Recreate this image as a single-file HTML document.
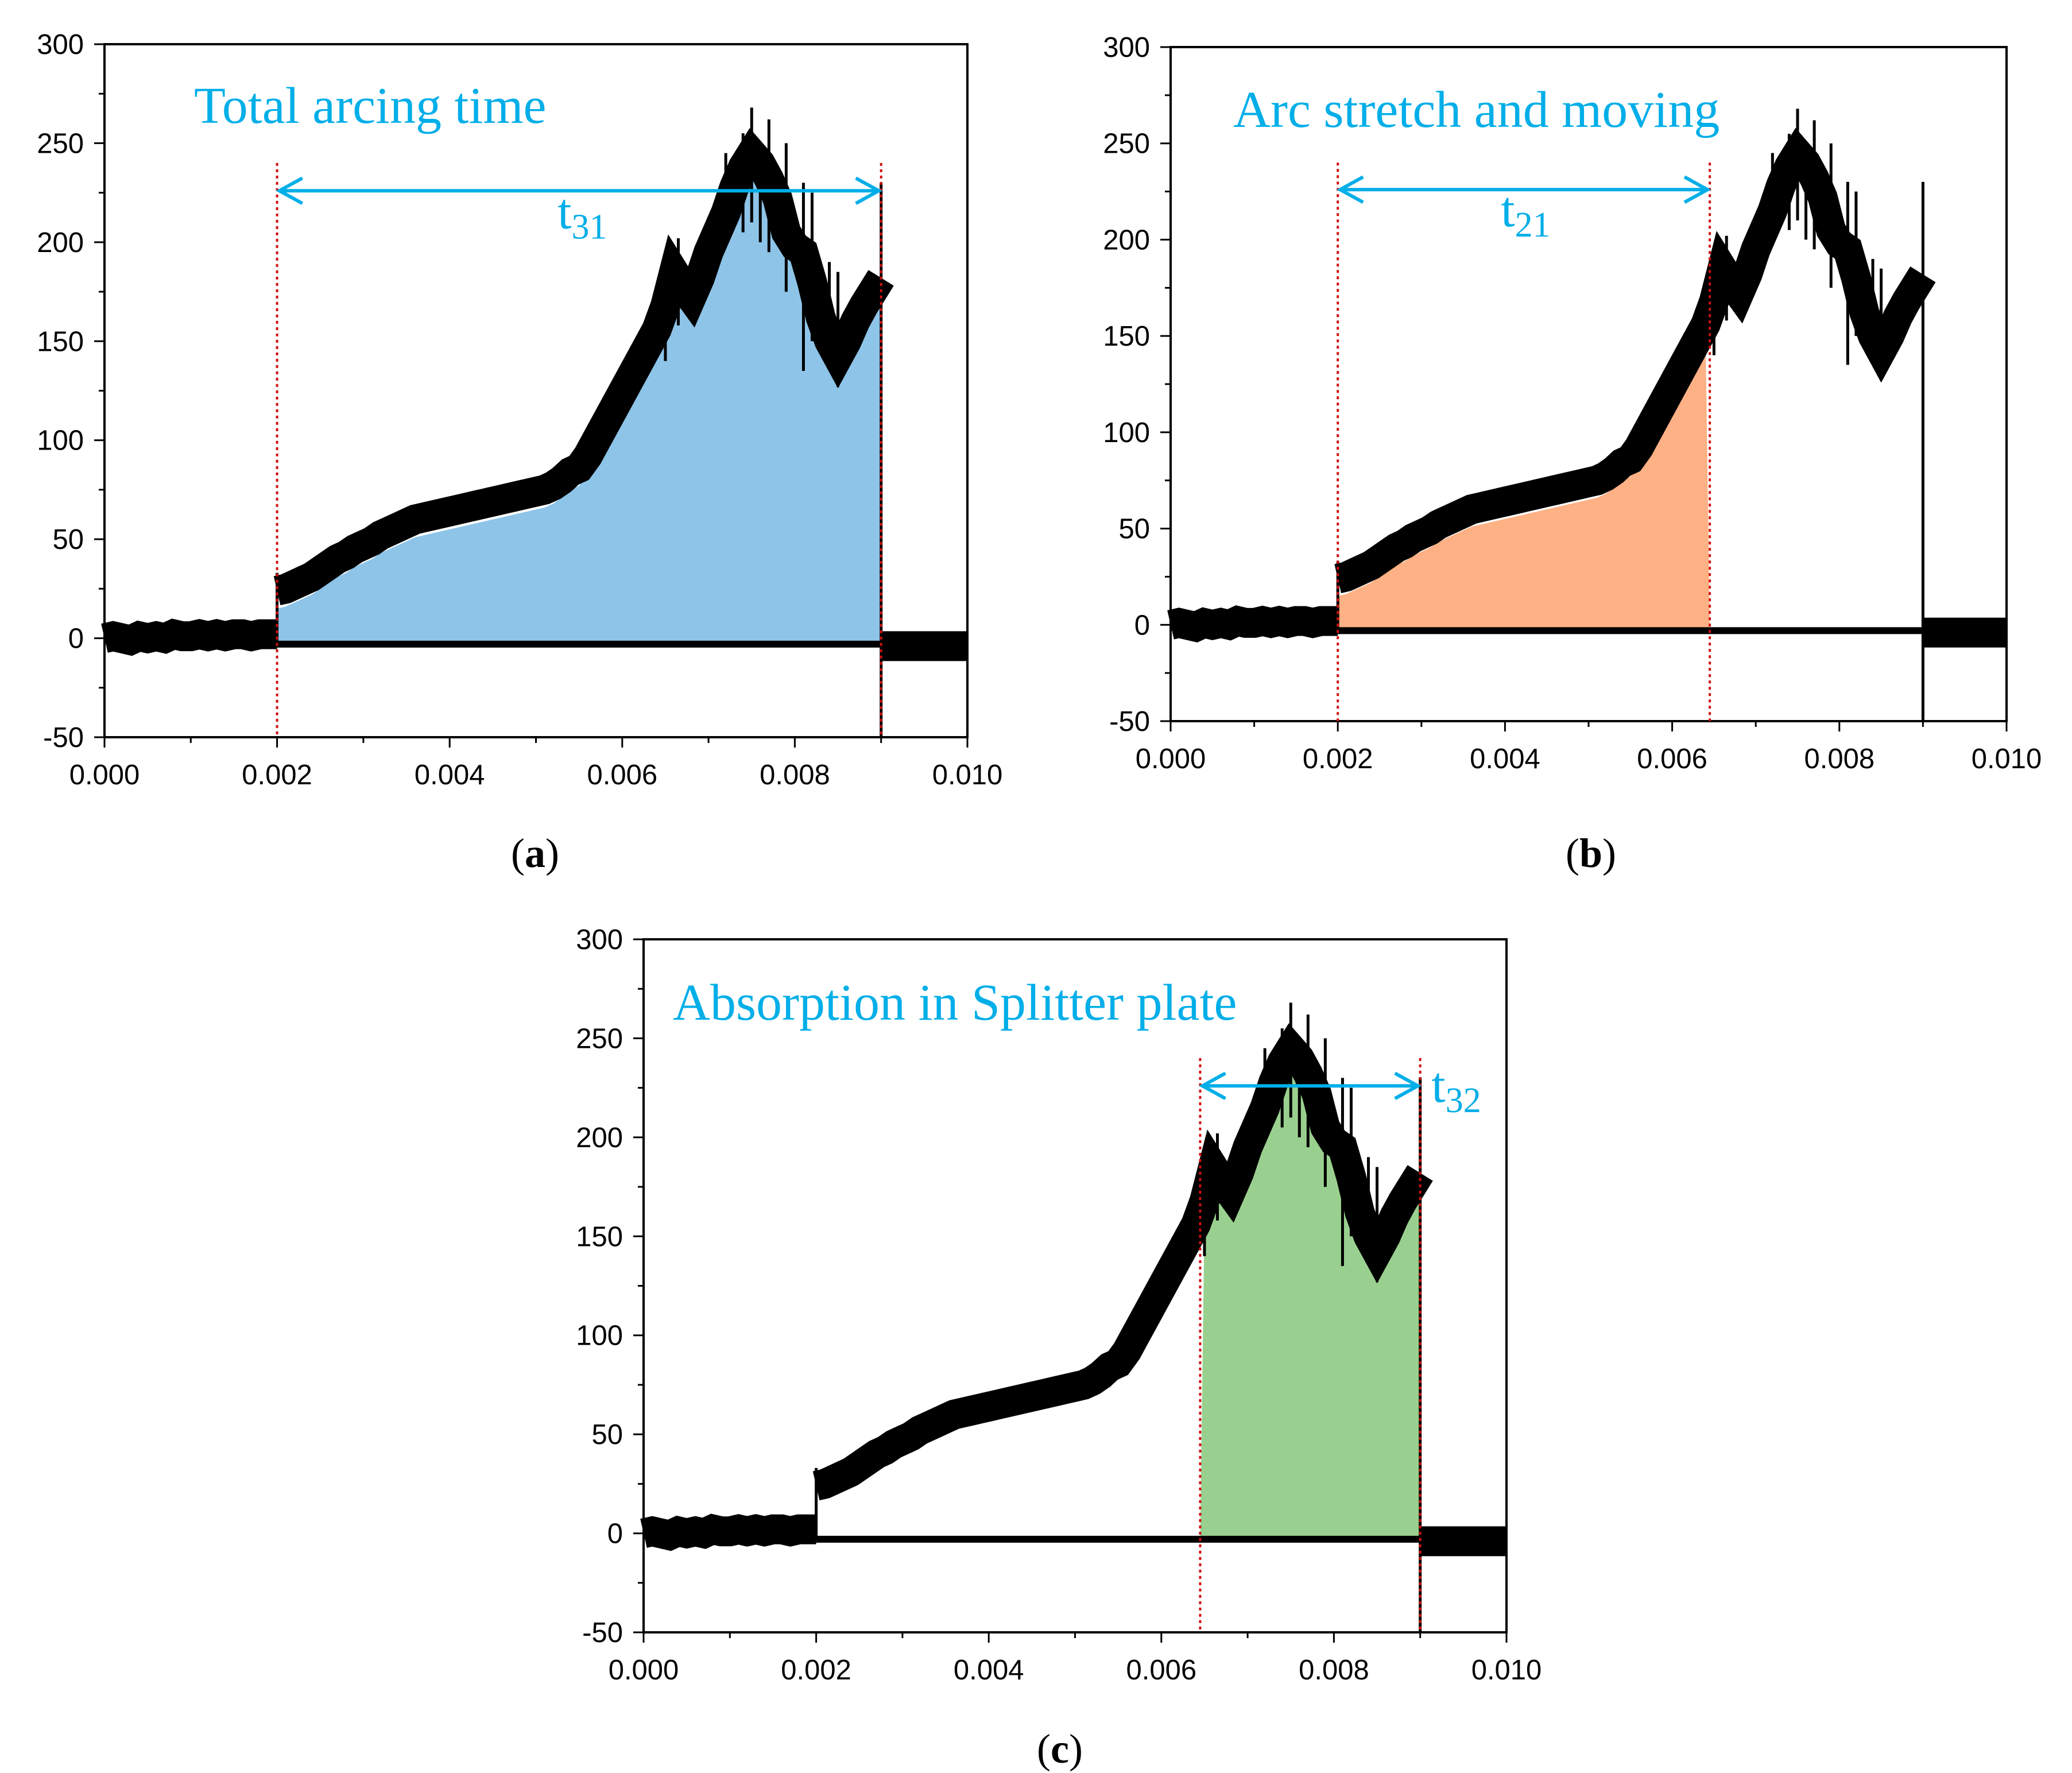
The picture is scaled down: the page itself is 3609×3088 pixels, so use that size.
<!DOCTYPE html>
<html><head><meta charset="utf-8">
<style>
html,body{margin:0;padding:0;background:#fff;}
svg{display:block;}
</style></head>
<body>
<svg id="fig" width="3609" height="3088" viewBox="0 0 3609 3088" xmlns="http://www.w3.org/2000/svg"></svg>
<script>
// time axis (s), one sample every 0.0001 s
const times = Array.from({length:101},(_, i)=> +(i*0.0001).toFixed(4));
// mean arc voltage
const voltage = [
 0,1,0,-1,1,0,1,0,2,1, 1,2,1,2,1,2,2,1,2,2,
 24,25,27,29,31,34,37,40,42,45,47,
 49,52,54,56,58,60,61,62,63,64,
 65,66,67,68,69,70,71,72,73,74,
 75,77,80,84,86, 92,100,108,116,124,
 132,140,148,156,168, 185,178,172,182,195,
 205,215,228,238,245, 240,232,222,205,198,
 195,180,162,150,142, 150,160,168,175,182,
 -4,-4,-4,-4,-4,-4,-4,-4,-4,-4
];
// spikes: [time, low, high]
const spikeT = [0.002,0.0065,0.00665,0.0068,0.0072,0.0074,0.0075,0.0076,0.0077,0.0079,0.0081,0.0082,0.0084,0.0085,0.009];
const spikeLo = [-3,140,158,160,215,205,210,200,195,175,135,150,150,127,-50];
const spikeHi = [33,190,202,185,245,255,268,250,262,250,230,225,190,185,230];
const xTicks = ["0.000","0.002","0.004","0.006","0.008","0.010"];
const yTicks = [300,250,200,150,100,50,0,-50];

const panels = [
 {id:'a', L:182,R:1685,T:77,B:1284, fill:'#8ec4e8', f0:0.002,f1:0.009, title:'Total arcing time', tx:338, ty:214,
  sub:'31', lx:0.00525, ly:207, cap:[932,1510]},
 {id:'b', L:2039,R:3495,T:82,B:1256, fill:'#fdb184', f0:0.002,f1:0.00645, title:'Arc stretch and moving', tx:2148, ty:221,
  sub:'21', lx:0.00395, ly:207, cap:[2771,1510]},
 {id:'c', L:1121,R:2624,T:1636,B:2843, fill:'#9ad08f', f0:0.00645,f1:0.009, title:'Absorption in Splitter plate', tx:1172, ty:1776,
  sub:'32', lx:0.00913, ly:218, cap:[1846,3070]}
];
const NS='http://www.w3.org/2000/svg';
const svg=document.getElementById('fig');
function mk(tag,attrs,parent){const e=document.createElementNS(NS,tag);for(const k in attrs)e.setAttribute(k,attrs[k]);(parent||svg).appendChild(e);return e;}

panels.forEach(p=>{
 const g=mk('g',{});
 
 
 const X=t=>p.L+(t/0.01)*(p.R-p.L);
 const Y=v=>p.T+(300-v)/350*(p.B-p.T);
 // fill area
 let d='M'+X(p.f0)+','+Y(-3);
 times.forEach((t,i)=>{ if(t>=p.f0-1e-9 && t<=p.f1+1e-9) d+=' L'+X(t)+','+Y(voltage[i]-9); });
 d+=' L'+X(p.f1)+','+Y(-3)+' Z';
 const fa=mk('path',{d:d,fill:p.fill},g);
 
 
 // baseline
 const bl=mk('line',{x1:X(0.002),x2:X(0.009),y1:Y(-3),y2:Y(-3),stroke:'#000','stroke-width':12},g);
 
 
 // band segments
 let seg=[];const segs=[];
 times.forEach((t,i)=>{
  if(i===20){seg.push([X(t),Y(voltage[i-1])]);segs.push(seg);seg=[];}
  if(i===91){segs.push(seg);seg=[[X(times[90]),Y(voltage[i])]];}
  seg.push([X(t),Y(voltage[i])]);
 });
 segs.push(seg);
 segs.forEach(s=>{
  const ln=mk('polyline',{points:s.map(q=>q.join(',')).join(' '),fill:'none',stroke:'#000','stroke-width':52,'stroke-linejoin':'miter','stroke-linecap':'butt'},g);
  
  
 });
 spikeT.forEach((t,i)=>{
  const sp=mk('line',{x1:X(t),x2:X(t),y1:Y(spikeLo[i]),y2:Y(spikeHi[i]),stroke:'#000','stroke-width':5},g);
  
  
 });
 // frame
 const fr=mk('rect',{x:p.L,y:p.T,width:p.R-p.L,height:p.B-p.T,fill:'none',stroke:'#000','stroke-width':4},g);
 
 
 // y ticks
 for(let v=-50;v<=300;v+=25){
  const major=v%50===0;
  mk('line',{x1:p.L,x2:p.L-(major?18:10),y1:Y(v),y2:Y(v),stroke:'#000','stroke-width':3},g);
 }
 yTicks.forEach(v=>{
  const t=mk('text',{x:p.L-36,y:Y(v)+17,'text-anchor':'end','font-family':'Liberation Sans, sans-serif','font-size':49,fill:'#000'},g);
  t.textContent=v;
  
  
 });
 for(let k=0;k<=10;k++){
  const major=k%2===0;
  mk('line',{x1:X(k*0.001),x2:X(k*0.001),y1:p.B,y2:p.B+(major?18:10),stroke:'#000','stroke-width':3},g);
 }
 xTicks.forEach((s,k)=>{
  const t=mk('text',{x:X(k*0.002),y:p.B+82,'text-anchor':'middle','font-family':'Liberation Sans, sans-serif','font-size':49,fill:'#000'},g);
  t.textContent=s;
  
  
 });
 // red dotted markers
 [p.f0,p.f1].forEach(t=>{
  const m=mk('line',{x1:X(t),x2:X(t),y1:Y(240),y2:p.B,stroke:'#d01010','stroke-width':4,'stroke-dasharray':'5,6'},g);
  
  
 });
 // arrow
 const ay=Y(226), x0=X(p.f0)+4, x1=X(p.f1)-4;
 const ar=mk('path',{d:`M${x0},${ay} L${x1},${ay} M${x0+40},${ay-22} L${x0},${ay} L${x0+40},${ay+22} M${x1-40},${ay-22} L${x1},${ay} L${x1-40},${ay+22}`,fill:'none',stroke:'#00aee8','stroke-width':6},g);
 
 
 const lab=mk('text',{x:X(p.lx),y:Y(p.ly),'font-family':'Liberation Serif, serif','font-size':88,fill:'#00aee8'},g);
 lab.innerHTML='t<tspan font-size="62" dy="18">'+p.sub+'</tspan>';
 
 
 const ti=mk('text',{x:p.tx,y:p.ty,'font-family':'Liberation Serif, serif','font-size':90,fill:'#00aee8'},g);
 ti.textContent=p.title;
 
 
 const cp=mk('text',{x:p.cap[0],y:p.cap[1],'text-anchor':'middle','font-family':'Liberation Serif, serif','font-size':72,fill:'#000'},svg);
 cp.innerHTML='(<tspan font-weight="bold">'+p.id+'</tspan>)';
 
 
});
</script>
</body></html>
